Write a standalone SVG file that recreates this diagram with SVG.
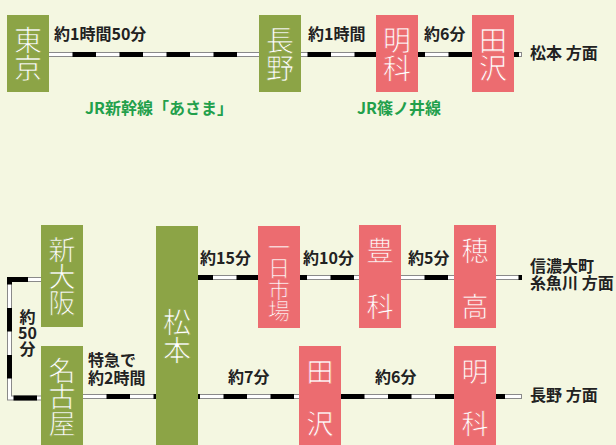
<svg xmlns="http://www.w3.org/2000/svg" width="616" height="445" viewBox="0 0 616 445">
<style>
.bg{fill:#F4F7E1}
.g{fill:#8CA446}
.p{fill:#EC6C70}
.bt{fill:#ffffff;font-family:"Noto Sans CJK JP","Noto Sans",sans-serif;font-weight:normal;text-anchor:middle;stroke-width:0.7px;paint-order:normal}
.g .bt{stroke:#8CA446}
.p .bt{stroke:#EC6C70}
.lb{fill:#222;font-family:"Noto Sans CJK JP","Noto Sans",sans-serif;font-weight:bold;font-size:16px}
.gl{fill:#22A04B;font-family:"Noto Sans CJK JP","Noto Sans",sans-serif;font-weight:bold;font-size:16px}
.r1{fill:none;stroke:#8a8a8a;stroke-width:5}
.r2{fill:none;stroke:#ffffff;stroke-width:3}
.r3{fill:none;stroke:#000;stroke-width:5;stroke-dasharray:23.5 23.5}
</style>
<rect class="bg" x="0" y="0" width="616" height="445"/>
<g id="connectors">
  <path class="r1" d="M49,54.5H522"/>
  <path class="r2" d="M49,54.5H521"/>
  <path class="r3" d="M49,54.5H522" stroke-dashoffset="23.5"/>
  <path class="r1" d="M198,277.5H522"/>
  <path class="r2" d="M198,277.5H521"/>
  <path class="r3" d="M198,277.5H522" stroke-dashoffset="8.5"/>
  <path class="r1" d="M83,396.5H156"/>
  <path class="r2" d="M83,396.5H156"/>
  <path class="r3" d="M83,396.5H156" stroke-dashoffset="23.5"/>
  <path class="r1" d="M198,396.5H299"/>
  <path class="r2" d="M198,396.5H299"/>
  <path class="r3" d="M198,396.5H299" stroke-dashoffset="21.5"/>
  <path class="r1" d="M341,396.5H454"/>
  <path class="r2" d="M341,396.5H454"/>
  <path class="r3" d="M341,396.5H454" stroke-dashoffset="0"/>
  <path class="r1" d="M496,396.5H522"/>
  <path class="r2" d="M496,396.5H521"/>
  <path class="r3" d="M496,396.5H522" stroke-dashoffset="14.5"/>
  <path class="r1" d="M41,279.5H9.5V398H41" stroke-linejoin="miter"/>
  <path class="r2" d="M41,279.5H9.5V398H41"/>
  <path class="r3" d="M41,279.5H9.5V398H41" stroke-dashoffset="34"/>
</g>
<g id="labels">
  <text class="lb" x="54" y="40">約1時間50分</text>
  <text class="lb" x="308" y="40">約1時間</text>
  <text class="lb" x="424" y="40">約6分</text>
  <text class="lb" x="530" y="59">松本 方面</text>
  <text class="gl" x="85" y="114">JR新幹線「あさま」</text>
  <text class="gl" x="357" y="114">JR篠ノ井線</text>
  <text class="lb" x="200" y="264">約15分</text>
  <text class="lb" x="303" y="264">約10分</text>
  <text class="lb" x="408" y="264">約5分</text>
  <text class="lb" x="530" y="272">信濃大町</text>
  <text class="lb" x="530" y="289">糸魚川 方面</text>
  <text class="lb" x="27.5" y="323" text-anchor="middle">約</text>
  <text class="lb" x="27.5" y="339" text-anchor="middle">50</text>
  <text class="lb" x="27.5" y="355" text-anchor="middle">分</text>
  <text class="lb" x="88" y="366">特急で</text>
  <text class="lb" x="88" y="384">約2時間</text>
  <text class="lb" x="228" y="383">約7分</text>
  <text class="lb" x="375" y="383">約6分</text>
  <text class="lb" x="530" y="401">長野 方面</text>
</g>
<g id="tokyo" class="g">
  <rect x="7" y="15" width="42" height="77"/>
  <text class="bt" font-size="28" x="28" y="51">東</text>
  <text class="bt" font-size="28" x="28" y="79">京</text>
</g>
<g id="nagano" class="g">
  <rect x="259" y="15" width="42" height="77"/>
  <text class="bt" font-size="28" x="280" y="51">長</text>
  <text class="bt" font-size="28" x="280" y="79">野</text>
</g>
<g id="akashina-top" class="p">
  <rect x="376" y="15" width="42" height="77"/>
  <text class="bt" font-size="28" x="397" y="51">明</text>
  <text class="bt" font-size="28" x="397" y="79">科</text>
</g>
<g id="tazawa-top" class="p">
  <rect x="472" y="15" width="42" height="77"/>
  <text class="bt" font-size="28" x="493" y="51">田</text>
  <text class="bt" font-size="28" x="493" y="79">沢</text>
</g>
<g id="shin-osaka" class="g">
  <rect x="41" y="225" width="42" height="102"/>
  <text class="bt" font-size="27" x="62" y="259.5">新</text>
  <text class="bt" font-size="27" x="62" y="287">大</text>
  <text class="bt" font-size="27" x="62" y="312.5">阪</text>
</g>
<g id="nagoya" class="g">
  <rect x="41" y="346" width="42" height="99"/>
  <text class="bt" font-size="27" x="62" y="380.5">名</text>
  <text class="bt" font-size="27" x="62" y="407">古</text>
  <text class="bt" font-size="27" x="62" y="433.5">屋</text>
</g>
<g id="matsumoto" class="g">
  <rect x="156" y="226" width="42" height="219"/>
  <text class="bt" font-size="28" x="177" y="332.5">松</text>
  <text class="bt" font-size="28" x="177" y="360.5">本</text>
</g>
<g id="ichinichiichiba" class="p">
  <rect x="258" y="226" width="42" height="102"/>
  <text class="bt" font-size="22" x="279" y="254.5">一</text>
  <text class="bt" font-size="22" x="279" y="276">日</text>
  <text class="bt" font-size="22" x="279" y="297.5">市</text>
  <text class="bt" font-size="22" x="279" y="319">場</text>
</g>
<g id="toyoshina" class="p">
  <rect x="359" y="225" width="42" height="103"/>
  <text class="bt" font-size="27" x="380" y="260.5">豊</text>
  <text class="bt" font-size="27" x="380" y="316.5">科</text>
</g>
<g id="hotaka" class="p">
  <rect x="454" y="225" width="42" height="103"/>
  <text class="bt" font-size="27" x="475" y="260.5">穂</text>
  <text class="bt" font-size="27" x="475" y="317">高</text>
</g>
<g id="tazawa-bottom" class="p">
  <rect x="299" y="346" width="42" height="99"/>
  <text class="bt" font-size="27" x="320" y="381.5">田</text>
  <text class="bt" font-size="27" x="320" y="434">沢</text>
</g>
<g id="akashina-bottom" class="p">
  <rect x="454" y="346" width="42" height="99"/>
  <text class="bt" font-size="27" x="475" y="381.5">明</text>
  <text class="bt" font-size="27" x="475" y="434">科</text>
</g>
</svg>
